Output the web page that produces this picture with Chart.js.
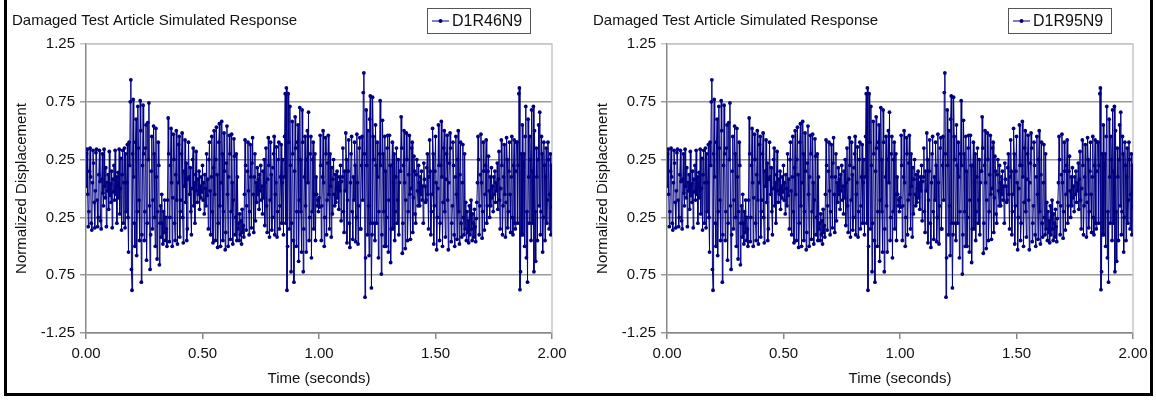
<!DOCTYPE html>
<html>
<head>
<meta charset="utf-8">
<title>Damaged Test Article Simulated Response</title>
<script src="https://cdn.jsdelivr.net/npm/chart.js@4.4.1/dist/chart.umd.min.js"></script>
<style>
  html, body { margin: 0; padding: 0; background: #fff; }
  #page { position: relative; width: 1156px; height: 400px; overflow: hidden; background: #fff; }
  #page canvas { position: absolute; top: 0; }
  #frame {
    position: absolute; left: 4px; top: -4px;
    width: 1143px; height: 394px;
    border: 3px solid #000; pointer-events: none;
  }
</style>
</head>
<body>
<div id="page">
  <canvas id="panelLeft" width="575" height="400" style="left:0px"></canvas>
  <canvas id="panelRight" width="575" height="400" style="left:581px"></canvas>
  <div id="frame"></div>
</div>
<script>
// Length of the simulated record (seconds); samples are evenly spaced over it
const recordDuration = 2.0;

// Normalized displacement samples, t = 0.00 s ... 2.00 s
const displacement = [
  // 0.000 - 0.168 s
  0.02, 0.30, 0.34, -0.05, -0.33, -0.20, 0.15, 0.35, 0.10, -0.30,
  -0.36, 0.05, 0.33, 0.22, -0.12, -0.34, -0.02, 0.31, 0.34, -0.10,
  -0.33, -0.25, 0.12, 0.33, 0.06, -0.28, -0.35, 0.08, 0.30, -0.04,
  -0.15, 0.34, 0.02, -0.08, 0.18, -0.33, 0.05, -0.02, 0.12, -0.18,
  0.32, -0.06, 0.04, -0.12, 0.15, -0.34, 0.08, -0.03, 0.20, -0.10,
  0.33, -0.05, 0.10, -0.30, 0.02, 0.14, -0.08, 0.34, -0.22, 0.00,
  0.26, -0.36, 0.12, 0.33, -0.30, 0.05, 0.35, -0.34,
  // 0.170 - 0.318 s : first impact burst
  0.30, -0.20, 0.05, 0.38, -0.25, -0.55, 0.40, 0.20, 0.75, 0.94,
  -0.70, -0.88, 0.30, 0.77, 0.10, -0.30, -0.50, 0.40, 0.60, -0.58,
  -0.20, 0.71, 0.35, -0.10, -0.45, 0.76, 0.50, -0.81, -0.40, 0.20,
  0.72, 0.30, -0.45, -0.20, 0.35, 0.55, -0.62, -0.30, 0.57, 0.25,
  0.74, -0.15, -0.70, -0.40, 0.15, 0.45, -0.35, -0.10, 0.54, 0.30,
  -0.25, -0.50, 0.52, 0.10, -0.61, -0.20, 0.40, 0.20, -0.66, -0.30,
  // 0.320 - 0.348 s
  -0.15, -0.42, -0.05, -0.30, -0.48, -0.20, -0.38, -0.10, -0.45, -0.25,
  -0.35, -0.50,
  // 0.350 - 0.653 s
  -0.10, 0.61, 0.30, -0.46, -0.25, 0.20, 0.52, 0.05, -0.50, -0.08,
  0.47, 0.25, -0.30, -0.45, 0.12, 0.50, -0.10, -0.48, 0.05, 0.38,
  0.45, -0.42, -0.20, -0.10, 0.30, 0.48, -0.25, -0.47, 0.15, 0.02,
  0.42, -0.12, 0.22, -0.45, -0.35, 0.08, 0.40, 0.10, -0.05, 0.18,
  -0.20, -0.40, 0.00, 0.25, 0.35, -0.15, 0.05, -0.30, 0.12, 0.32,
  -0.02, -0.12, 0.08, -0.05, 0.15, -0.18, 0.02, -0.08, 0.10, -0.03,
  0.20, -0.10, 0.05, -0.22, 0.12, 0.00, -0.15, 0.30, -0.06, 0.08,
  -0.35, 0.25, 0.40, -0.02, -0.40, 0.10, 0.45, -0.20, -0.47, 0.18,
  0.50, -0.05, -0.45, 0.25, 0.53, 0.12, -0.51, -0.30, 0.40, 0.56,
  -0.15, -0.50, 0.05, 0.58, 0.30, -0.45, -0.20, 0.48, 0.15, -0.53,
  -0.38, 0.22, 0.54, -0.05, -0.50, 0.10, 0.46, 0.30, -0.44, -0.20,
  0.47, 0.05, -0.48, -0.10, 0.43, 0.28, -0.40, -0.25, 0.30, -0.45,
  0.10, -0.35,
  // 0.655 - 0.678 s
  -0.30, -0.45, -0.22, -0.40, -0.28, -0.48, -0.18, -0.38, -0.32, -0.42,
  // 0.680 - 0.843 s
  -0.05, 0.42, 0.20, -0.36, -0.15, 0.15, 0.40, -0.02, -0.40, -0.20,
  0.38, 0.10, -0.34, 0.22, 0.44, -0.05, -0.38, 0.10, 0.30, -0.28,
  0.05, -0.12, 0.18, -0.05, 0.08, -0.18, 0.12, -0.02, 0.20, -0.10,
  0.02, -0.22, 0.15, -0.08, 0.25, -0.32, 0.05, 0.35, -0.15, -0.38,
  0.08, 0.44, 0.20, -0.42, -0.10, 0.40, 0.12, -0.36, -0.25, 0.18,
  0.30, 0.45, -0.40, -0.05, 0.05, 0.36, -0.42, -0.20, 0.25, 0.40,
  -0.35, -0.15, 0.10, 0.38, -0.30, 0.05,
  // 0.845 - 0.988 s : second impact burst
  0.25, -0.40, 0.10, 0.45, 0.82, -0.30, 0.87, -0.88, -0.50, 0.82,
  0.40, -0.35, 0.71, 0.20, -0.72, -0.30, 0.58, 0.30, -0.45, -0.81,
  0.15, 0.62, 0.35, -0.50, -0.20, 0.40, 0.55, -0.63, -0.10, 0.70,
  0.25, -0.20, -0.55, 0.68, 0.40, -0.72, -0.35, 0.10, 0.45, -0.15,
  -0.55, 0.25, 0.50, 0.05, 0.66, -0.45, -0.25, 0.30, 0.45, -0.60,
  -0.20, 0.25, 0.40, -0.35, -0.05, 0.30, -0.45, 0.10,
  // 0.990 - 1.003 s
  -0.05, -0.15, -0.10, -0.20, -0.08, -0.16,
  // 1.005 - 1.178 s
  0.46, 0.20, -0.45, -0.15, 0.10, 0.50, 0.05, -0.50, -0.25, 0.44,
  0.30, -0.40, -0.10, 0.22, 0.46, -0.05, -0.35, 0.30, 0.02, -0.42,
  0.18, -0.22, 0.08, 0.25, -0.05, -0.15, 0.12, -0.12, 0.00, 0.15,
  -0.08, 0.05, -0.18, 0.10, -0.02, 0.20, -0.28, 0.06, 0.10, 0.35,
  -0.20, -0.38, 0.15, -0.02, 0.48, 0.25, -0.47, -0.10, 0.15, 0.42,
  -0.30, -0.51, 0.05, 0.30, 0.45, -0.20, -0.44, 0.10, -0.10, 0.40,
  0.20, -0.46, -0.25, 0.47, 0.05, -0.48, -0.15, 0.35, 0.44, -0.35,
  // 1.180 - 1.348 s : third impact burst
  -0.35, 0.20, 0.45, -0.10, 0.83, 1.00, 0.30, -0.94, -0.60, 0.68,
  0.20, -0.40, 0.50, -0.15, -0.58, 0.60, 0.80, -0.30, -0.86, -0.40,
  0.79, 0.45, 0.25, -0.30, -0.45, 0.55, 0.20, -0.30, 0.40, 0.10,
  -0.60, -0.20, 0.30, 0.76, 0.20, -0.74, -0.40, 0.59, 0.30, -0.20,
  -0.50, 0.45, 0.15, -0.50, -0.25, 0.35, 0.46, -0.55, -0.10, 0.46,
  0.20, -0.64, -0.35, 0.20, 0.40, -0.35, 0.05, 0.30, -0.45, -0.20,
  0.10, 0.35, -0.30, -0.10, 0.25, -0.40, 0.05, 0.15,
  // 1.350 - 1.628 s
  0.15, 0.62, 0.35, -0.56, -0.30, 0.20, 0.50, 0.05, -0.52, -0.10,
  0.48, 0.25, -0.45, -0.20, 0.12, 0.46, -0.05, -0.44, 0.00, 0.35,
  0.40, -0.38, -0.08, 0.28, 0.15, -0.22, -0.30, 0.12, 0.25, -0.02,
  -0.15, 0.20, 0.05, -0.15, 0.10, -0.05, 0.15, -0.10, 0.02, -0.30,
  0.22, 0.08, 0.02, -0.12, -0.10, 0.18, 0.30, -0.05, -0.35, 0.10,
  0.42, 0.15, -0.40, -0.20, -0.05, 0.52, 0.30, -0.48, -0.15, 0.15,
  0.45, 0.05, -0.53, -0.25, 0.00, 0.55, 0.20, -0.45, -0.30, 0.20,
  0.58, 0.10, -0.50, -0.12, 0.35, 0.50, -0.20, -0.42, 0.08, 0.30,
  0.46, -0.10, -0.53, 0.05, 0.22, 0.48, 0.35, -0.46, -0.30, -0.15,
  0.40, 0.20, -0.40, -0.50, 0.10, 0.45, -0.05, -0.44, 0.25, 0.50,
  -0.20, -0.48, 0.12, 0.40, -0.30, -0.42, 0.05, 0.38, -0.25, -0.40,
  0.30, -0.35,
  // 1.630 - 1.678 s
  -0.12, -0.45, -0.20, -0.38, -0.28, -0.47, -0.15, -0.40, -0.25, -0.10,
  -0.35, -0.45, -0.22, -0.30, -0.42, -0.18, -0.33, -0.46, -0.26, -0.12,
  // 1.680 - 1.848 s
  0.05, 0.45, 0.25, -0.40, -0.15, 0.12, 0.47, 0.05, -0.43, -0.20,
  0.40, 0.15, -0.36, -0.05, 0.20, 0.42, -0.30, -0.15, 0.15, 0.28,
  -0.02, -0.25, 0.10, -0.15, 0.18, -0.08, 0.02, -0.20, 0.10, -0.05,
  0.15, -0.12, 0.05, -0.02, 0.22, -0.18, 0.08, 0.32, -0.10, -0.35,
  0.00, 0.42, 0.20, -0.40, -0.15, 0.10, 0.38, -0.05, -0.42, -0.12,
  0.44, 0.25, -0.34, -0.20, 0.15, 0.40, -0.05, -0.38, 0.10, 0.45,
  -0.25, -0.40, 0.20, 0.42, -0.30, -0.35, 0.15, 0.40,
  // 1.850 - 2.000 s : fourth impact burst
  0.40, -0.30, 0.20, 0.82, 0.87, -0.875, -0.72, 0.30, -0.40, 0.55,
  -0.40, 0.20, 0.30, -0.50, 0.45, 0.71, -0.60, -0.20, -0.81, 0.60,
  0.10, -0.30, 0.45, 0.25, -0.45, 0.68, 0.15, -0.30, 0.71, -0.72,
  0.50, -0.20, -0.63, 0.35, 0.10, -0.45, 0.25, 0.55, -0.15, 0.66,
  -0.40, -0.20, 0.45, 0.30, -0.55, -0.25, 0.40, 0.20, -0.45, 0.10,
  0.35, -0.30, -0.10, 0.40, 0.25, -0.35, -0.05, 0.30, -0.40, 0.20,
  -0.16
];

// Axis ticks and their printed labels
const xTickValues = [0, 0.5, 1.0, 1.5, 2.0];
const xTickLabels = ['0.00', '0.50', '1.00', '1.50', '2.00'];
const yTickValues = [-1.25, -0.75, -0.25, 0.25, 0.75, 1.25];
const yTickLabels = ['-1.25', '0.75', '0.25', '0.25', '0.75', '1.25'];

const chartTitle = 'Damaged Test Article Simulated Response';
const xAxisTitle = 'Time (seconds)';
const yAxisTitle = 'Normalized Displacement';

const FONT = '"Liberation Sans", Arial, Helvetica, sans-serif';
const NAVY = '#000080';

// Title, legend box and light plot frame drawn around the chart area
const panelDecor = {
  id: 'panelDecor',
  beforeDatasetsDraw(chart) {
    const { ctx, chartArea: a } = chart;
    ctx.save();
    ctx.strokeStyle = '#c8c8c8';
    ctx.lineWidth = 1.5;
    ctx.beginPath();
    ctx.moveTo(a.left, a.top);
    ctx.lineTo(a.right, a.top);
    ctx.lineTo(a.right, a.bottom);
    ctx.stroke();
    ctx.restore();
  },
  afterDraw(chart) {
    const { ctx } = chart;
    ctx.save();
    // chart title
    ctx.fillStyle = '#111';
    ctx.font = '15px ' + FONT;
    ctx.textBaseline = 'alphabetic';
    ctx.textAlign = 'left';
    ctx.fillText(chartTitle, 12, 25);

    // legend box
    const bx = 427, by = 8, bw = 103, bh = 25;
    ctx.fillStyle = '#fff';
    ctx.fillRect(bx, by, bw, bh);
    ctx.strokeStyle = '#555';
    ctx.lineWidth = 1;
    ctx.strokeRect(bx + 0.5, by + 0.5, bw, bh);
    const ly = by + bh / 2 + 0.5;
    ctx.strokeStyle = NAVY;
    ctx.beginPath();
    ctx.moveTo(bx + 5, ly);
    ctx.lineTo(bx + 22, ly);
    ctx.stroke();
    ctx.fillStyle = NAVY;
    ctx.beginPath();
    ctx.arc(bx + 13.5, ly, 2, 0, Math.PI * 2);
    ctx.fill();
    ctx.fillStyle = '#111';
    ctx.font = '16px ' + FONT;
    ctx.textBaseline = 'middle';
    ctx.fillText(chart.data.datasets[0].label, bx + 25, ly + 1);
    ctx.restore();
  }
};

function buildPanel(canvasId, seriesName, values, rightPad) {
  const step = recordDuration / (values.length - 1);
  const points = values.map((v, i) => ({ x: i * step, y: v }));
  return new Chart(document.getElementById(canvasId), {
    type: 'line',
    data: {
      datasets: [{
        label: seriesName,
        data: points,
        borderColor: NAVY,
        backgroundColor: NAVY,
        borderWidth: 1,
        pointRadius: 1.9,
        pointBorderWidth: 0,
        pointStyle: 'circle',
        tension: 0,
        fill: false
      }]
    },
    options: {
      responsive: false,
      animation: false,
      events: [],
      layout: { padding: { top: 44, right: rightPad, left: 0, bottom: 0 } },
      plugins: { legend: { display: false }, title: { display: false }, tooltip: { enabled: false } },
      scales: {
        x: {
          type: 'linear',
          min: 0, max: 2,
          afterBuildTicks: s => { s.ticks = xTickValues.map(v => ({ value: v })); },
          afterFit: s => { s.height = 67; },
          ticks: {
            autoSkip: false, maxRotation: 0, padding: 6,
            color: '#111', font: { family: FONT, size: 15 },
            callback: (v, i) => xTickLabels[i]
          },
          grid: { drawOnChartArea: false, drawTicks: true, tickLength: 6, color: '#888', lineWidth: 1.5 },
          border: { color: '#888', width: 1.5 },
          title: { display: true, text: xAxisTitle, color: '#111', font: { family: FONT, size: 15 }, padding: { top: 0, bottom: 12 } }
        },
        y: {
          min: -1.25, max: 1.25,
          afterBuildTicks: s => { s.ticks = yTickValues.map(v => ({ value: v })); },
          afterFit: s => { s.width = 86; },
          ticks: {
            autoSkip: false, padding: 5,
            color: '#111', font: { family: FONT, size: 15 },
            callback: (v, i) => yTickLabels[i]
          },
          grid: {
            drawTicks: true, tickLength: 6,
            color: c => (c.tick && c.tick.value === 1.25) ? '#c8c8c8' : '#9a9a9a',
            lineWidth: 1.5
          },
          border: { color: '#888', width: 1.5 },
          title: { display: true, text: yAxisTitle, color: '#111', font: { family: FONT, size: 15 }, padding: { top: 13, bottom: 0 } }
        }
      }
    },
    plugins: [panelDecor]
  });
}

// Both runs give the same sampled response at this resolution
buildPanel('panelLeft', 'D1R46N9', displacement, 23);
buildPanel('panelRight', 'D1R95N9', displacement, 23);
</script>
</body>
</html>
